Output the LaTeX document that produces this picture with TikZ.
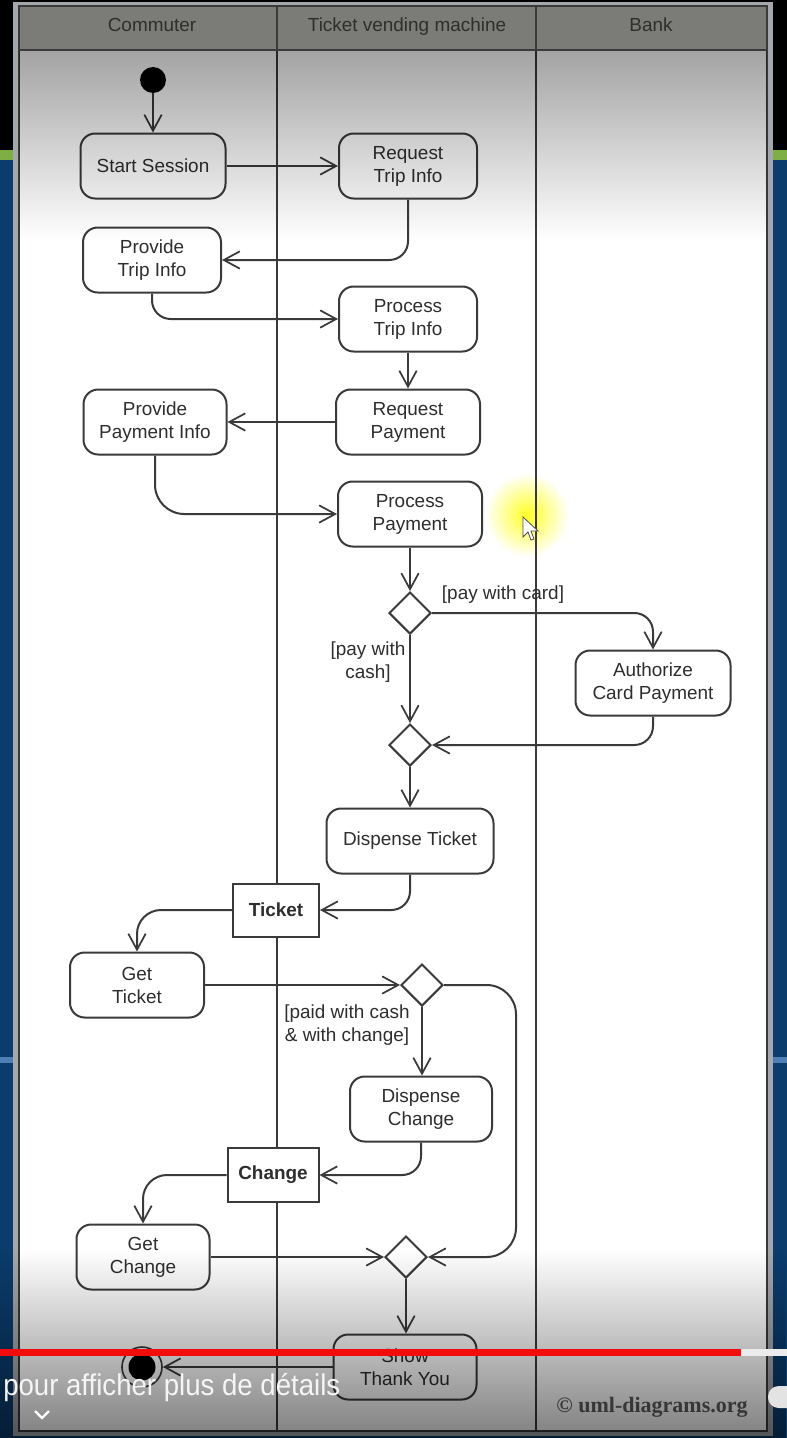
\documentclass[tikz,border=0pt]{standalone}
\usepackage{fontspec}
\setmainfont{Liberation Sans}
\newfontfamily\serifx{Liberation Serif}
\usetikzlibrary{arrows.meta,shapes.geometric,fadings,calc}
\newdimen\pxu \pxu=0.75pt
\definecolor{linec}{HTML}{3A3A3A}
\definecolor{textc}{HTML}{2E2E2E}
\definecolor{headgray}{HTML}{7B7C77}
\definecolor{framegray}{HTML}{A4A8AE}
\definecolor{bluebg}{HTML}{0B3C6C}
\definecolor{lightblue}{HTML}{4F7FB5}
\definecolor{grn}{HTML}{7FAE45}
\definecolor{copyc}{HTML}{5E5E5E}
\definecolor{barred}{HTML}{F20D0D}
\newcommand{\actfont}{\fontsize{14.2pt}{17.25pt}\selectfont}
\tikzset{
  act/.style={draw=linec, line width=1.5pt, rounded corners=11pt, fill=white,
    align=center, font=\actfont, text=textc, inner sep=0pt, minimum height=65\pxu},
  objbox/.style={draw=linec, line width=1.5pt, fill=white, align=center,
    font=\actfont\bfseries, text=textc, inner sep=0pt},
  dec/.style={diamond, draw=linec, line width=1.5pt, fill=white,
    minimum width=42\pxu, minimum height=42\pxu, inner sep=0pt},
  flow/.style={draw=linec, line width=1.5pt,
    -{Straight Barb[length=12pt,width=13pt,line width=1.3pt]}},
  lbl/.style={font=\actfont, text=textc, align=center, inner sep=0pt},
  lane/.style={draw=linec, line width=1.5pt},
  hdr/.style={font=\actfont, text=textc, inner sep=0pt, anchor=base}
}
\begin{document}
\begin{tikzpicture}[x=0.75pt,y=-0.75pt]
\useasboundingbox (0,0) rectangle (787,1438);
% outer video background
\fill[black] (0,0) rectangle (787,150);
\fill[grn] (0,150) rectangle (787,160);
\fill[bluebg] (0,160) rectangle (787,1438);
\fill[lightblue] (0,1057) rectangle (14,1063);
\fill[lightblue] (773,1057) rectangle (787,1063);
% frame
\fill[framegray] (13,2) rectangle (773,1436);
\fill[white] (19,50) rectangle (767,1431);
\fill[headgray] (19,6) rectangle (767,50);
% cursor glow
\shade[inner color=yellow!85!white, outer color=white] (527,515) circle (42);
\draw[lane] (19,6) rectangle (767,1431);
\draw[lane] (19,50) -- (767,50);
\node[hdr] (h1) at (152,32) {Commuter};
\node[hdr] (h2) at (407,32) {Ticket vending machine};
\node[hdr] (h3) at (651,32) {Bank};
\draw[lane] (277,6) -- (277,1431);
\draw[lane] (536,6) -- (536,1431);
% nodes
\fill[black] (153,80) circle (13) coordinate (init);
\node[circle, minimum size=26\pxu, inner sep=0pt] (ini) at (153,80) {};
\node[act, minimum width=145\pxu] (ss) at (153,166) {Start Session};
\node[act, minimum width=138\pxu] (rti) at (408,166) {Request\\Trip Info};
\node[act, minimum width=138\pxu] (pti) at (152,260) {Provide\\Trip Info};
\node[act, minimum width=138\pxu] (prti) at (408,319) {Process\\Trip Info};
\node[act, minimum width=144\pxu] (rp) at (408,422) {Request\\Payment};
\node[act, minimum width=143\pxu] (ppi) at (155,422) {Provide\\Payment Info};
\node[act, minimum width=144\pxu] (pp) at (410,514) {Process\\Payment};
\node[dec] (d1) at (410,613) {};
\node[act, minimum width=155\pxu] (auth) at (653,683) {Authorize\\Card Payment};
\node[dec] (d2) at (410,745) {};
\node[act, minimum width=167\pxu] (dt) at (410,841) {Dispense Ticket};
\node[objbox, minimum width=86\pxu, minimum height=53\pxu] (tk) at (276,910) {Ticket};
\node[act, minimum width=134\pxu] (gt) at (137,985) {Get\\Ticket};
\node[dec] (d3) at (422,985) {};
\node[act, minimum width=142\pxu] (dc) at (421,1109) {Dispense\\Change};
\node[objbox, minimum width=91\pxu, minimum height=54\pxu] (ch) at (273,1175) {Change};
\node[act, minimum width=133\pxu] (gc) at (143,1257) {Get\\Change};
\node[dec] (d4) at (406,1257) {};
\node[act, minimum width=143\pxu] (sty) at (405,1367) {Show\\Thank You};
\node[circle, draw=linec, line width=1.2pt, minimum size=40\pxu, inner sep=0pt] (fin) at (142,1367) {};
\fill[black] (fin.center) circle (13.5);
% labels
\node[lbl] (l1) at (503,595) {[pay with card]};
\node[lbl] (l2) at (368,662) {[pay with\\cash]};
\node[lbl] (l3) at (347,1025) {[paid with cash\\\& with change]};
% flows
\draw[flow] (ini) -- (ss);
\draw[flow] (ss.east) -- (ss.east -| rti.west);
\draw[flow, rounded corners=14pt] (rti.south) |- (pti.east);
\draw[flow, rounded corners=14pt] (pti.south) |- (prti.west);
\draw[flow] (prti.south) -- (rp.north);
\draw[flow] (rp.west) -- (ppi.east);
\draw[flow, rounded corners=22pt] (ppi.south) |- (pp.west);
\draw[flow] (pp.south) -- (d1.north);
\draw[flow, rounded corners=14pt] (d1.east) -| (auth.north);
\draw[flow] (d1.south) -- (d2.north);
\draw[flow, rounded corners=14pt] (auth.south) |- (d2.east);
\draw[flow] (d2.south) -- (dt.north);
\draw[flow, rounded corners=14pt] (dt.south) |- (tk.east);
\draw[flow, rounded corners=18pt] (tk.west) -| (gt.north);
\draw[flow] (gt.east) -- (d3.west);
\draw[flow] (d3.south) -- (d3.south |- dc.north);
\draw[flow, rounded corners=22pt] (d3.east) -- ++(72,0) |- (d4.east);
\draw[flow, rounded corners=14pt] (dc.south) |- (ch.east);
\draw[flow, rounded corners=18pt] (ch.west) -| (gc.north);
\draw[flow] (gc.east) -- (d4.west);
\draw[flow] (d4.south) -- (d4.south |- sty.north);
\draw[flow] (sty.west) -- (fin.east);
% copyright
\node[font=\serifx\bfseries\fontsize{16.5pt}{16.5pt}\selectfont, text=copyc, inner sep=0pt] (cp) at (652,1407) {© uml-diagrams.org};
% cursor
\filldraw[fill=white, draw=black!70, line width=0.6pt] (523,517) -- (523,537) -- (528,532) -- (531,540) -- (534,539) -- (531,531) -- (538,531) -- cycle;
% overlays
\fill[black, fill opacity=0.36, path fading=south] (19,51) rectangle (767,240);
\fill[black, fill opacity=0.5, path fading=north] (0,1250) rectangle (787,1438);
% video UI
\fill[barred] (0,1349) rectangle (741,1356);
\fill[white!85!gray] (741,1349) rectangle (787,1356);
\fill[white!78!gray, rounded corners=8pt] (768,1386) rectangle (800,1408);
\node[anchor=base west, inner sep=0pt, text=white!92!gray] (ov) at (3,1395) {\scalebox{0.92}[1]{\fontsize{22.5pt}{22.5pt}\selectfont pour afficher plus de détails}};
\draw[white, line width=1.8pt] (35,1411) -- (42,1418) -- (49,1411);
\end{tikzpicture}
\end{document}
